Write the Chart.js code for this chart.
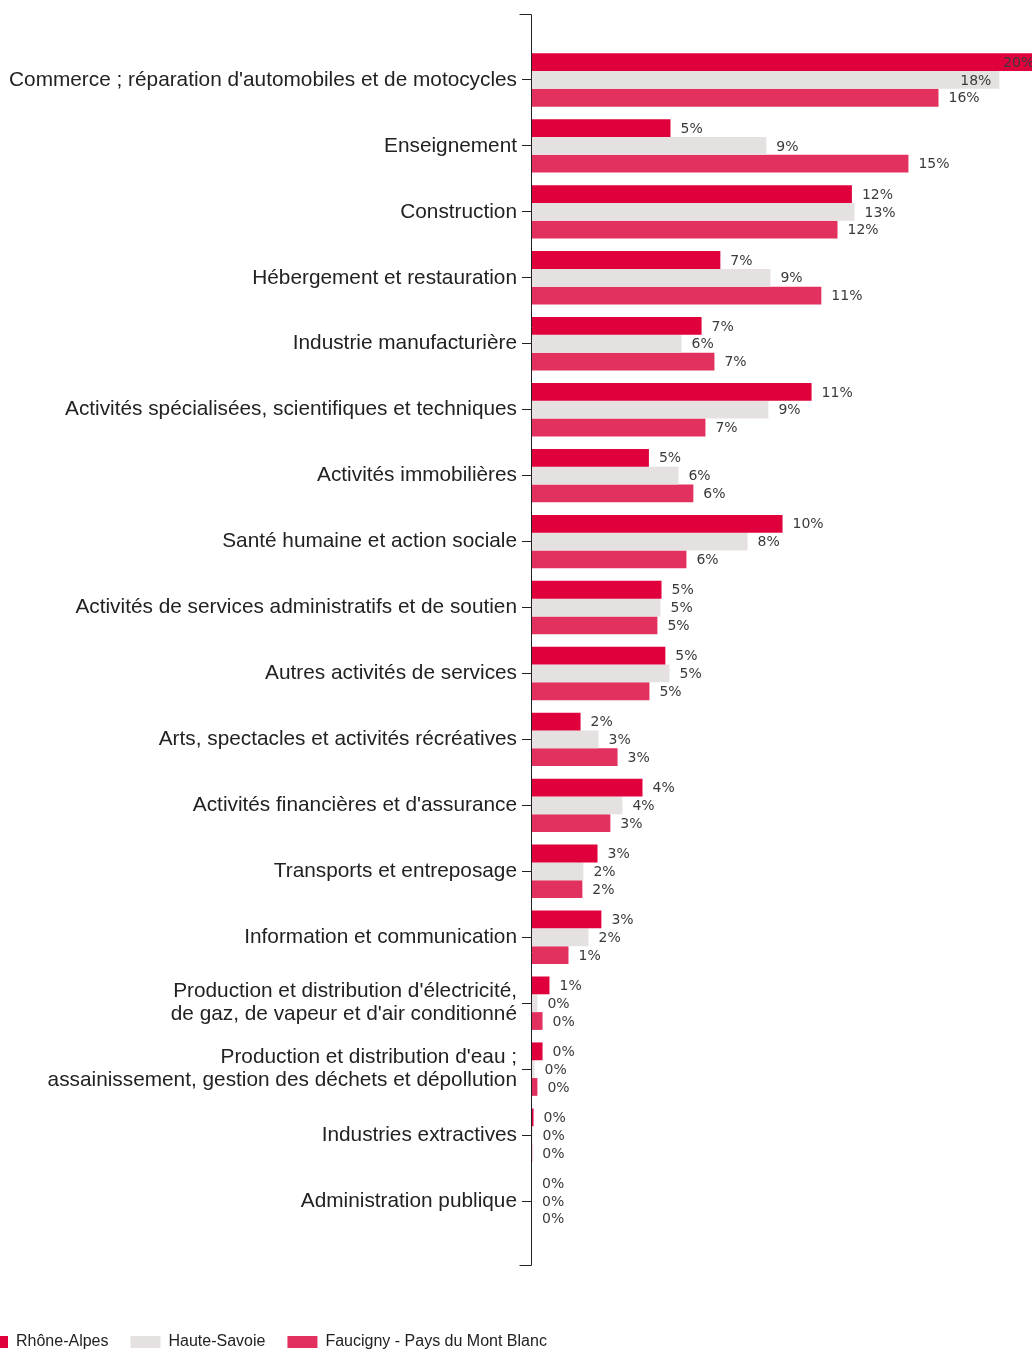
<!DOCTYPE html>
<html>
<head>
<meta charset="utf-8">
<script src="https://cdn.jsdelivr.net/npm/chart.js@4.4.1/dist/chart.umd.min.js"></script>
<style>
  html, body { margin: 0; padding: 0; background: #fff; overflow: hidden; }
  #wrap { position: relative; width: 1032px; height: 1349px; overflow: hidden; }
  #chart { position: absolute; left: -44px; top: 0; }
</style>
</head>
<body>
<div id="wrap">
  <canvas id="chart" width="1112" height="1360"></canvas>
</div>
<script>
// Secteurs d'activité
const categories = [
  "Commerce ; réparation d'automobiles et de motocycles",
  "Enseignement",
  "Construction",
  "Hébergement et restauration",
  "Industrie manufacturière",
  "Activités spécialisées, scientifiques et techniques",
  "Activités immobilières",
  "Santé humaine et action sociale",
  "Activités de services administratifs et de soutien",
  "Autres activités de services",
  "Arts, spectacles et activités récréatives",
  "Activités financières et d'assurance",
  "Transports et entreposage",
  "Information et communication",
  ["Production et distribution d'électricité,", "de gaz, de vapeur et d'air conditionné"],
  ["Production et distribution d'eau ;", "assainissement, gestion des déchets et dépollution"],
  "Industries extractives",
  "Administration publique"
];

const seriesNames = ["Rhône-Alpes", "Haute-Savoie", "Faucigny - Pays du Mont Blanc"];

// parts en %
const rhoneAlpes = [19.86, 5.39, 12.45, 7.33, 6.60, 10.88, 4.55, 9.75, 5.04, 5.19, 1.89, 4.30, 2.55, 2.70, 0.68, 0.41, 0.06, 0];
const hauteSavoie = [18.19, 9.12, 12.55, 9.28, 5.82, 9.20, 5.70, 8.39, 5.00, 5.35, 2.59, 3.52, 2.00, 2.20, 0.21, 0.10, 0.02, 0];
const faucigny = [15.82, 14.65, 11.89, 11.26, 7.10, 6.75, 6.28, 6.01, 4.88, 4.57, 3.33, 3.05, 1.96, 1.42, 0.41, 0.21, 0.01, 0];

const colors = ['#e0003c', '#e6e1e1', '#e2305f'];

// axe vertical prolongé avec petits retours en haut et en bas
const axisLine = {
  id: 'axisLine',
  afterDraw(chart) {
    const ctx = chart.ctx;
    const x = Math.round(chart.chartArea.left) - 0.5;
    const top = 14.5, bottom = 1265.5;
    ctx.save();
    ctx.strokeStyle = '#222';
    ctx.lineWidth = 1;
    ctx.beginPath();
    ctx.moveTo(x - 12, top);
    ctx.lineTo(x, top);
    ctx.lineTo(x, bottom);
    ctx.lineTo(x - 12, bottom);
    ctx.stroke();
    ctx.restore();
  }
};

// étiquettes de valeur
const valueLabels = {
  id: 'valueLabels',
  afterDatasetsDraw(chart) {
    const ctx = chart.ctx;
    ctx.save();
    ctx.font = '14px "DejaVu Sans", Verdana, sans-serif';
    ctx.fillStyle = '#3a3a3a';
    ctx.textBaseline = 'middle';
    ctx.textAlign = 'left';
    chart.data.datasets.forEach((ds, i) => {
      const meta = chart.getDatasetMeta(i);
      meta.data.forEach((bar, j) => {
        const txt = Math.round(ds.data[j]) + '%';
        const w = ctx.measureText(txt).width;
        let x = bar.x + 10;
        if (x + w > 1054) {
          x = bar.x - 8 - w;
        }
        ctx.fillText(txt, x, bar.y + 1);
      });
    });
    ctx.restore();
  }
};

new Chart(document.getElementById('chart'), {
  type: 'bar',
  data: {
    labels: categories,
    datasets: [
      { label: seriesNames[0], data: rhoneAlpes, backgroundColor: colors[0] },
      { label: seriesNames[1], data: hauteSavoie, backgroundColor: colors[1] },
      { label: seriesNames[2], data: faucigny, backgroundColor: colors[2] }
    ]
  },
  options: {
    indexAxis: 'y',
    responsive: false,
    animation: false,
    devicePixelRatio: 1,
    layout: { padding: { top: 47, bottom: 0, left: 0, right: 0 } },
    datasets: {
      bar: { categoryPercentage: 0.81, barPercentage: 1.0 }
    },
    scales: {
      y: {
        afterFit: s => { s.width = 576; },
        grid: {
          display: true,
          drawOnChartArea: false,
          drawTicks: true,
          tickLength: 10,
          tickColor: '#222',
          offset: false
        },
        border: { display: false },
        ticks: {
          autoSkip: false,
          padding: 5,
          color: '#222',
          font: { family: '"Liberation Sans", Arial, sans-serif', size: 20.8, lineHeight: 1.1 }
        }
      },
      x: {
        min: 0,
        max: 20.86,
        afterFit: s => { s.height = 78; },
        grid: { display: false },
        border: { display: false },
        ticks: { display: false }
      }
    },
    plugins: {
      tooltip: { enabled: false },
      legend: {
        position: 'bottom',
        align: 'start',
        labels: {
          boxWidth: 30,
          boxHeight: 12,
          padding: 22,
          color: '#222',
          font: { family: '"Liberation Sans", Arial, sans-serif', size: 16 }
        }
      }
    }
  },
  plugins: [axisLine, valueLabels]
});
</script>
</body>
</html>
